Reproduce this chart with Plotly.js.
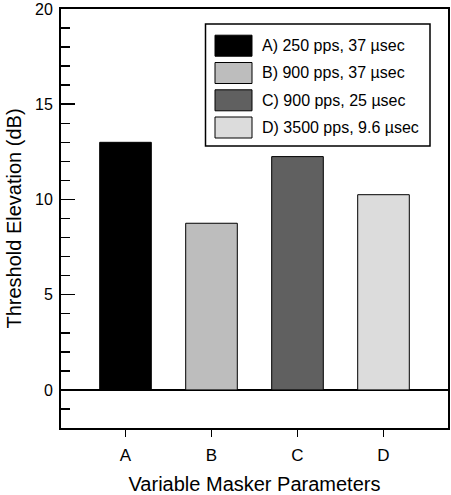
<!DOCTYPE html>
<html>
<head>
<meta charset="utf-8">
<script src="https://cdn.plot.ly/plotly-3.0.1.min.js"></script>
<style>html,body{margin:0;padding:0;background:#fff;}#chart{width:451px;height:495px;}</style>
</head>
<body>
<div id="chart"></div>
<script>
var categories = ['A', 'B', 'C', 'D'];
var thresholdElevation = [13, 8.75, 12.25, 10.25];
var barColors = ['#000000', '#bdbdbd', '#606060', '#dcdcdc'];
var legendLabels = ['A) 250 pps, 37 \u00b5sec', 'B) 900 pps, 37 \u00b5sec', 'C) 900 pps, 25 \u00b5sec', 'D) 3500 pps, 9.6 \u00b5sec'];
var yTickVals = [0, 5, 10, 15, 20];

var W = 451, H = 495;
var mL = 61, mR = 3, mT = 9, mB = 67;
var plotW = W - mL - mR, plotH = H - mT - mB;
function px(x) { return (x - mL) / plotW; }
function py(y) { return (H - mB - y) / plotH; }

var FONT = 'Liberation Sans, Arial, Helvetica, sans-serif';

var trace = {
  type: 'bar',
  x: categories,
  y: thresholdElevation,
  marker: { color: barColors, line: { color: '#000', width: 1 } },
  width: 0.6,
  showlegend: false,
  hoverinfo: 'x+y'
};

var shapes = [];
var annotations = [];
// legend frame
shapes.push({ type: 'rect', xref: 'paper', yref: 'paper',
  x0: px(205.5), x1: px(430), y0: py(146), y1: py(24),
  line: { color: '#000', width: 1.5 }, fillcolor: '#fff', layer: 'above' });
var rowCenters = [45.7, 73.0, 100.3, 127.5];
for (var i = 0; i < legendLabels.length; i++) {
  var cy = rowCenters[i];
  shapes.push({ type: 'rect', xref: 'paper', yref: 'paper',
    x0: px(215), x1: px(252), y0: py(cy + 10.5), y1: py(cy - 10.5),
    line: { color: '#000', width: 1 }, fillcolor: barColors[i], layer: 'above' });
  annotations.push({ xref: 'paper', yref: 'paper', x: px(260), y: py(cy),
    xanchor: 'left', yanchor: 'middle', showarrow: false, text: legendLabels[i],
    font: { family: FONT, size: 16, color: '#000' } });
}

var layout = {
  width: W, height: H,
  margin: { l: mL, r: mR, t: mT, b: mB },
  paper_bgcolor: '#fff', plot_bgcolor: '#fff',
  font: { family: FONT, size: 16, color: '#000' },
  bargap: 0.4,
  xaxis: {
    type: 'category',
    range: [-0.75, 3.75],
    showline: true, linecolor: '#000', linewidth: 2, mirror: true,
    ticks: 'outside', ticklen: 7, tickwidth: 1.5, tickcolor: '#000',
    ticklabelstandoff: 4,
    showgrid: false, zeroline: false,
    tickfont: { family: FONT, size: 17, color: '#000' },
    title: { text: 'Variable Masker Parameters', font: { family: FONT, size: 20, color: '#000' }, standoff: 13 },
    automargin: false
  },
  yaxis: {
    range: [-2, 20],
    tickvals: yTickVals,
    ticktext: yTickVals.map(String),
    showline: true, linecolor: '#000', linewidth: 2, mirror: true,
    ticks: 'inside', ticklen: 14, tickwidth: 1.5, tickcolor: '#000',
    ticklabelstandoff: 3,
    minor: { dtick: 1, tick0: 0, ticks: 'inside', ticklen: 9, tickwidth: 1.5, tickcolor: '#000', showgrid: false },
    showgrid: false,
    zeroline: true, zerolinecolor: '#000', zerolinewidth: 1.5,
    tickfont: { family: FONT, size: 16, color: '#000' },
    title: { text: 'Threshold Elevation (dB)', font: { family: FONT, size: 20, color: '#000' }, standoff: 8 },
    automargin: false
  },
  shapes: shapes,
  annotations: annotations
};

Plotly.newPlot('chart', [trace], layout, { displayModeBar: false, staticPlot: true });
</script>
</body>
</html>
